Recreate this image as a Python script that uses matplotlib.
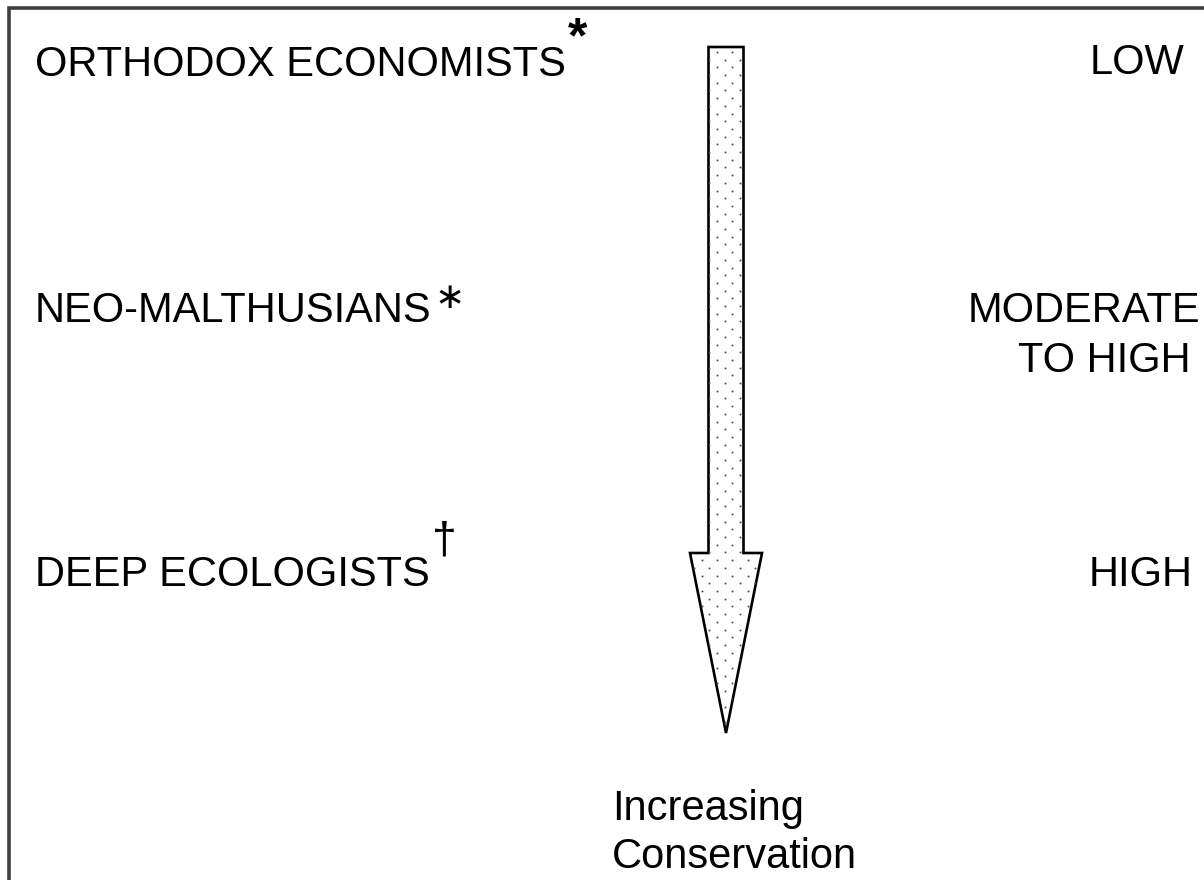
import numpy as np
import matplotlib
matplotlib.use("Agg")
import matplotlib.pyplot as plt
from matplotlib.patches import Polygon

# ---- content ----
left_labels = ["ORTHODOX ECONOMISTS", "NEO-MALTHUSIANS", "DEEP ECOLOGISTS"]
left_marks = ["*", "\u2217", "\u2020"]
right_labels = ["LOW", "MODERATE", "TO HIGH", "HIGH"]
axis_caption = ["Increasing", "Conservation"]

W, H = 1204, 880
fig = plt.figure(figsize=(W / 100, H / 100), dpi=100)
ax = fig.add_axes([0, 0, 1, 1])
ax.set_xlim(0, W)
ax.set_ylim(H, 0)
ax.axis("off")

FONT = "Liberation Sans"
FS = 30

# frame (only left and top visible)
ax.plot([8.5, 8.5, W + 10], [H + 10, 8.5, 8.5], color="#404040", lw=2.6,
        solid_joinstyle="miter", clip_on=False)

# arrow
cx = 726
shaft_hw = 17.5
head_hw = 36
top_y = 47
base_y = 553
tip_y = 733
verts = [(cx - shaft_hw, top_y), (cx + shaft_hw, top_y), (cx + shaft_hw, base_y),
         (cx + head_hw, base_y), (cx, tip_y), (cx - head_hw, base_y),
         (cx - shaft_hw, base_y)]
arrow = Polygon(verts, closed=True, facecolor="white", edgecolor="black", lw=1.9,
                joinstyle="miter", zorder=3)
ax.add_patch(arrow)

# dot texture
xs, ys = [], []
dy = 7.7
dx = 15.3
row = 0
y = top_y + 5
while y < tip_y:
    off = 0 if row % 2 == 0 else -dx / 2
    x = cx - 9 + off - 3 * dx
    while x < cx + 4 * dx:
        xs.append(x)
        ys.append(y)
        x += dx
    y += dy
    row += 1
dots = ax.scatter(xs, ys, s=2.2, color="#555555", zorder=4, linewidths=0)
dots.set_clip_path(arrow)

# left labels
fig.canvas.draw()
renderer = fig.canvas.get_renderer()
left_base = [76, 322, 586]
mark_kw = [
    dict(fontsize=36, family=FONT, fontweight="bold", dy=-24, dx=2),
    dict(fontsize=26, family="DejaVu Sans", fontweight="normal", dy=-14, dx=3),
    dict(fontsize=32, family=FONT, fontweight="normal", dy=-34, dx=2),
]
for lab, mk, yb, kw in zip(left_labels, left_marks, left_base, mark_kw):
    t = ax.text(35, yb, lab, fontsize=FS, family=FONT, va="baseline", ha="left",
                color="black")
    bb = t.get_window_extent(renderer=renderer)
    x_end = bb.x1  # pixels == data units here
    ax.text(x_end + kw["dx"], yb + kw["dy"], mk, fontsize=kw["fontsize"],
            family=kw["family"], fontweight=kw["fontweight"], va="baseline",
            ha="left", color="black")

# right labels
right_pos = [(1184, 74), (1200, 322), (1191, 372), (1193, 586)]
for lab, (xr, yb) in zip(right_labels, right_pos):
    ax.text(xr, yb, lab, fontsize=FS, family=FONT, va="baseline", ha="right",
            color="black")

# caption
for lab, yb in zip(axis_caption, [820, 868]):
    ax.text(612, yb, lab, fontsize=FS, family=FONT, va="baseline", ha="left",
            color="black")

fig.savefig("out.png", dpi=100, facecolor="white")
